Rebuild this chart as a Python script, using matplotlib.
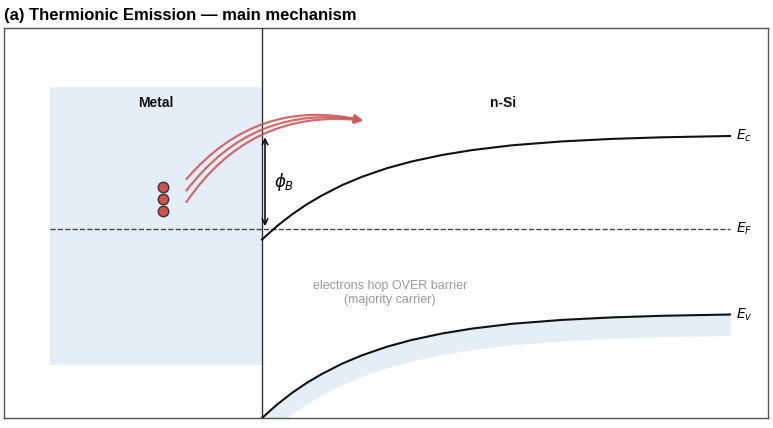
import matplotlib
matplotlib.use("Agg")
import matplotlib.pyplot as plt
from matplotlib.patches import Rectangle, FancyArrowPatch

plt.rcParams['font.family'] = ['Liberation Sans', 'DejaVu Sans']

# Band edges in the semiconductor (x = distance from interface, y = energy, E_F = 0)
x_band = [0.0, 0.15, 0.3, 0.45, 0.6, 0.8, 1.0, 1.25, 1.5, 1.8, 2.1, 2.5, 3.0, 3.5, 4.0, 4.68]
ec_vals = [-0.105, 0.029, 0.146, 0.248, 0.336, 0.438, 0.522, 0.608, 0.676, 0.740,
           0.789, 0.837, 0.876, 0.901, 0.917, 0.930]
ev_vals = [-1.890, -1.756, -1.639, -1.537, -1.449, -1.347, -1.263, -1.177, -1.109, -1.045,
           -0.996, -0.948, -0.909, -0.884, -0.868, -0.855]
ev_band_depth = 0.21

ef_level = 0.0
phi_b_top = 0.945
metal_left, metal_bottom, metal_top = -2.12, -1.36, 1.42

# electrons in the metal
elec_x = [-0.99, -0.99, -0.99]
elec_y = [0.42, 0.30, 0.18]
# hop paths (start points) and common end point
hop_start_x = [-0.755, -0.755, -0.755]
hop_start_y = [0.50, 0.385, 0.27]
hop_end = (1.01, 1.085)

band_labels = ['$E_c$', '$E_F$', '$E_v$']

fig = plt.figure(figsize=(7.73, 4.28), dpi=100)
ax = fig.add_axes([4 / 773, 10 / 428, 764 / 773, 390 / 428])
ax.set_xlim(-2.58, 5.06)
ax.set_ylim(-1.89, 2.01)
ax.set_xticks([])
ax.set_yticks([])
for sp in ax.spines.values():
    sp.set_color('#555555')
    sp.set_linewidth(1.0)

# metal block
ax.add_patch(Rectangle((metal_left, metal_bottom), 0 - metal_left, metal_top - metal_bottom,
                       facecolor='#e4eef8', edgecolor='none', zorder=0))
ax.text((metal_left + 0) / 2, 1.26, 'Metal', ha='center', va='center',
        fontsize=10, fontweight='bold', color='#111111')
ax.text(2.41, 1.26, 'n-Si', ha='center', va='center',
        fontsize=10, fontweight='bold', color='#111111')

# interface
ax.axvline(0, color='#333333', lw=1.0, zorder=3)

# Fermi level
ax.plot([metal_left, x_band[-1]], [ef_level, ef_level], ls='--', color='#444444', lw=1.0)

# valence band shading + band edges
ev_low = [v - ev_band_depth for v in ev_vals]
ax.fill_between(x_band, ev_low, ev_vals, color='#e4eef8', lw=0, zorder=1)
ax.plot(x_band, ec_vals, color='#111111', lw=1.5, zorder=4)
ax.plot(x_band, ev_vals, color='#111111', lw=1.5, zorder=4)

ax.text(4.74, ec_vals[-1], band_labels[0], ha='left', va='center', fontsize=10)
ax.text(4.74, ef_level, band_labels[1], ha='left', va='center', fontsize=10)
ax.text(4.74, ev_vals[-1], band_labels[2], ha='left', va='center', fontsize=10)

# barrier height arrow
ax.add_patch(FancyArrowPatch((0.03, ef_level), (0.03, phi_b_top), arrowstyle='<->',
                             mutation_scale=10, color='#111111', lw=1.2, zorder=5))
ax.text(0.12, 0.47, r'$\phi_B$', ha='left', va='center', fontsize=12)

# electrons and their hop over the barrier
ax.plot(elec_x, elec_y, 'o', ms=7.5, mfc='#d0524a', mec='#333333', mew=1.0, zorder=6)
for sx, sy in zip(hop_start_x, hop_start_y):
    ax.add_patch(FancyArrowPatch((sx, sy), hop_end, connectionstyle='arc3,rad=-0.3',
                                 arrowstyle='-|>', mutation_scale=12, shrinkA=0, shrinkB=0,
                                 color='#cd5c5c', lw=1.6, alpha=0.9, zorder=6))

ax.text(1.28, -0.64, 'electrons hop OVER barrier\n(majority carrier)', ha='center',
        va='center', fontsize=9, color='#999999')

ax.set_title('(a) Thermionic Emission — main mechanism', loc='left', fontsize=12,
             fontweight='bold', pad=6, x=0.0)

fig.savefig('out.png', dpi=100)
